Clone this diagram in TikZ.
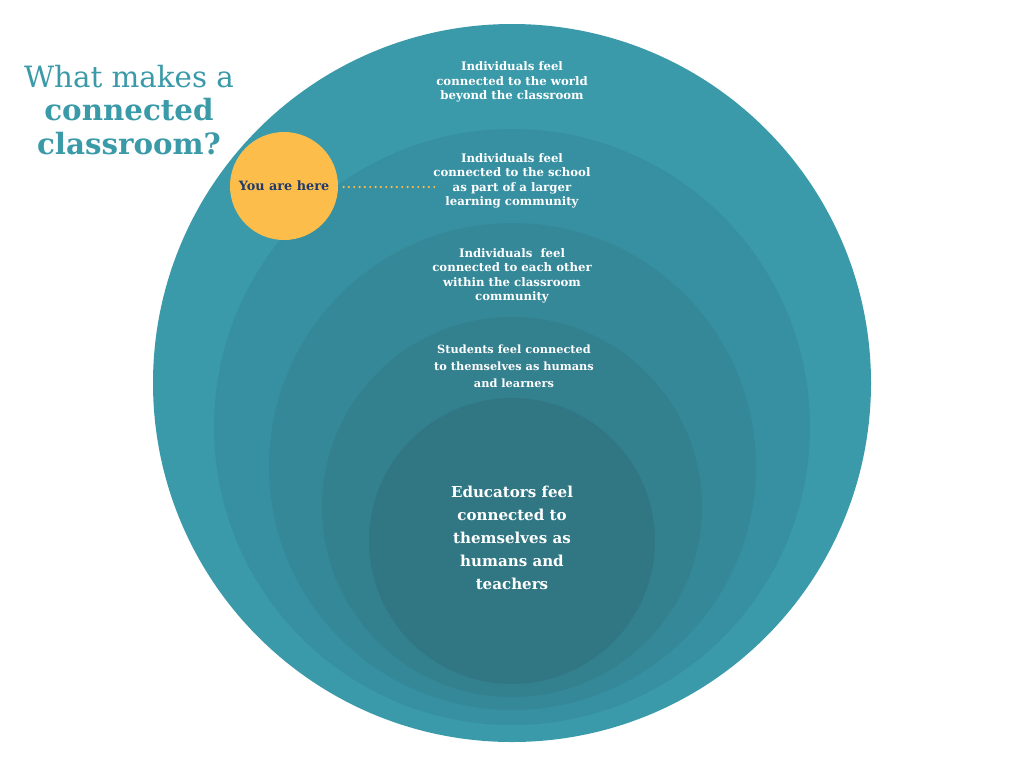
\documentclass[tikz,border=0pt]{standalone}
\usepackage{fontspec}
\setmainfont{DejaVu Serif}
\definecolor{ringA}{HTML}{3A9AAA}
\definecolor{ringB}{HTML}{3790A1}
\definecolor{ringC}{HTML}{348898}
\definecolor{ringD}{HTML}{33808F}
\definecolor{ringE}{HTML}{317783}
\definecolor{titleteal}{HTML}{3A9AA8}
\definecolor{hereyellow}{HTML}{FDBD4A}
\definecolor{herenavy}{HTML}{1F3A6B}
\begin{document}
\begin{tikzpicture}[
  x=0.75pt, y=-0.75pt,
  ring/.style={fill=#1},
  lbl/.style={text=white, align=center, font=\fontsize{8.8}{10.9}\selectfont\bfseries},
  inlbl/.style={text=white, align=center, font=\fontsize{11.3}{17.2}\selectfont\bfseries},
  dotline/.style={hereyellow, line width=1.8pt, line cap=round, dash pattern=on 0pt off 4pt}
]
\useasboundingbox (0,0) rectangle (1024,768);

% nested circles
\fill[ring=ringA] (512,383) circle (359);
\fill[ring=ringB] (512,427) circle (298);
\fill[ring=ringC] (512.5,466.5) circle (243.5);
\fill[ring=ringD] (512,507) circle (190);
\fill[ring=ringE] (512,541) circle (143);

% title
\node[text=titleteal, align=center, font=\fontsize{22}{24.8}\selectfont] (title) at (129,110)
  {What makes a\\\textbf{connected}\\\textbf{classroom?}};

% labels
\node[lbl] (world)  at (512,82)  {Individuals feel\\connected to the world\\beyond the classroom};
\node[lbl] (school) at (512,181) {Individuals feel\\connected to the school\\as part of a larger\\learning community};
\node[lbl] (peers)  at (512,276) {Individuals\ \ feel\\connected to each other\\within the classroom\\community};
\node[lbl, font=\fontsize{8.5}{12.75}\selectfont\bfseries] (self) at (514,366)
  {Students feel connected\\to themselves as humans\\and learners};
\node[inlbl] (educ) at (512,538) {Educators feel\\connected to\\themselves as\\humans and\\teachers};

% you are here
\node[circle, fill=hereyellow, minimum size=81pt, inner sep=0pt, text=herenavy,
      font=\fontsize{9.6}{10}\selectfont\bfseries] (here) at (284,186) {You are here};
\coordinate (dotend) at (435,187);
\draw[dotline, shorten <=4pt] (here.east |- dotend) -- (dotend);
\end{tikzpicture}
\end{document}
